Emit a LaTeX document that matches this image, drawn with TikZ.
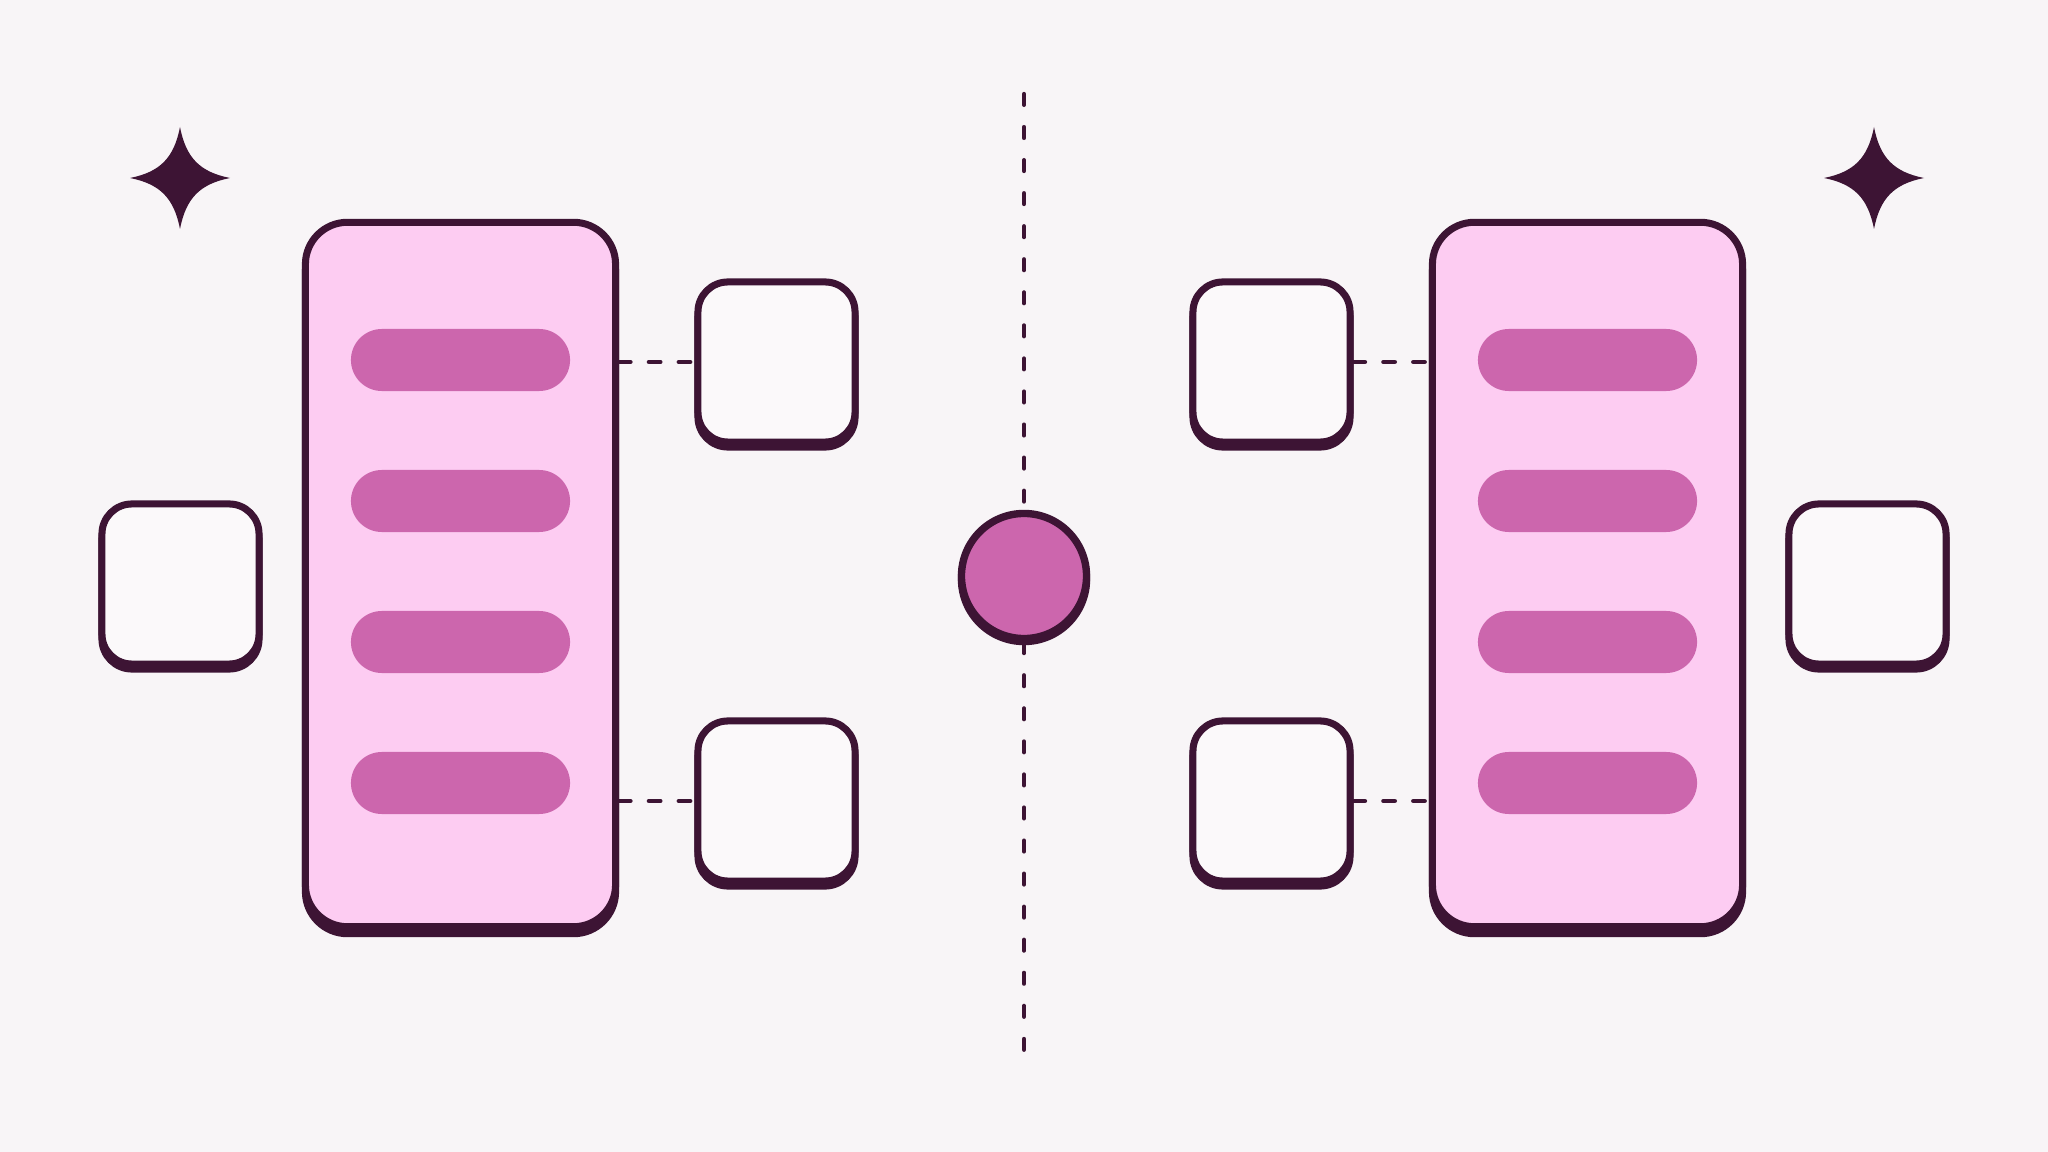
\documentclass[tikz,border=0pt]{standalone}
\usetikzlibrary{shadows}
\definecolor{plum}{HTML}{3D1434}
\definecolor{bg}{HTML}{F8F5F7}
\definecolor{panelpink}{HTML}{FDCCF2}
\definecolor{barpink}{HTML}{CC66AD}
\definecolor{boxwhite}{HTML}{FBF9FA}
\tikzset{
  panel/.style={draw=plum, fill=panelpink, line width=2pt, rounded corners=0.42cm,
    minimum width=3.1cm, minimum height=7.04cm, inner sep=0pt,
    general shadow={draw=plum, fill=plum, shadow yshift=-0.07cm}},
  slot/.style={fill=barpink, rounded corners=0.31cm, minimum width=2.19cm,
    minimum height=0.62cm, inner sep=0pt},
  port/.style={draw=plum, fill=boxwhite, line width=2pt, rounded corners=0.3cm,
    minimum width=1.57cm, minimum height=1.6cm, inner sep=0pt,
    general shadow={draw=plum, fill=plum, shadow yshift=-0.05cm}},
  hubnode/.style={circle, draw=plum, fill=barpink, line width=2.1pt, minimum size=1.25cm,
    inner sep=0pt, general shadow={draw=plum, fill=plum, shadow yshift=-0.03cm}},
  link/.style={plum, line width=1.3pt, dash pattern=on 3.2pt off 5.3pt, line cap=round},
  divider/.style={plum, line width=1.2pt, dash pattern=on 3.1pt off 6.3pt, line cap=round}
}
\begin{document}
\begin{tikzpicture}[x=0.01cm, y=-0.01cm]
\useasboundingbox[fill=bg] (0,0) rectangle (2048,1152);
% centre line and hub
\coordinate (dtop) at (1024,94);
\coordinate (dbot) at (1024,1062);
\node[hubnode] (hub) at (1024,576) {};
\draw[divider] (dtop) -- (hub);
\draw[divider] (hub) -- (dbot);
% left side
\node[panel] (lpanel) at (460.5,574.5) {};
\foreach \y/\n in {360/1,501/2,642/3,783/4}
  \node[slot] (lslot\n) at (460.5,\y) {};
\node[port] (ltop) at (776.5,362) {};
\node[port] (lbot) at (776.5,801) {};
\node[port] (lside) at (180.5,584) {};
\draw[link] (lpanel.east |- ltop) -- (ltop);
\draw[link] (lpanel.east |- lbot) -- (lbot);
% right side
\node[panel] (rpanel) at (1587.5,574.5) {};
\foreach \y/\n in {360/1,501/2,642/3,783/4}
  \node[slot] (rslot\n) at (1587.5,\y) {};
\node[port] (rtop) at (1271.5,362) {};
\node[port] (rbot) at (1271.5,801) {};
\node[port] (rside) at (1867.5,584) {};
\draw[link] (rtop) -- (rpanel.west |- rtop);
\draw[link] (rbot) -- (rpanel.west |- rbot);
% sparkles
\foreach \sx in {180,1874}{
  \begin{scope}[shift={(\sx,178)}]
  \fill[plum] (0,-51) .. controls (6,-20) and (20,-6) .. (50,0)
    .. controls (20,6) and (6,20) .. (0,51)
    .. controls (-6,20) and (-20,6) .. (-50,0)
    .. controls (-20,-6) and (-6,-20) .. cycle;
  \end{scope}
}
\end{tikzpicture}
\end{document}
